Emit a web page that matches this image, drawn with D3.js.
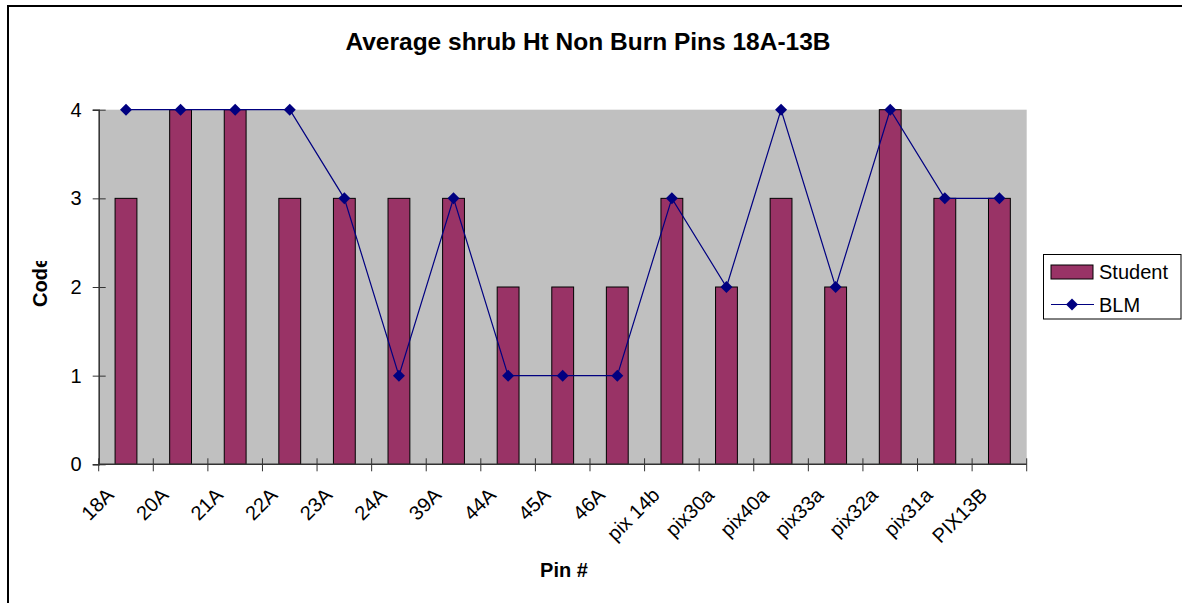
<!DOCTYPE html>
<html>
<head>
<meta charset="utf-8">
<script src="https://cdn.jsdelivr.net/npm/d3@7.9.0/dist/d3.min.js"></script>
<style>
  html, body { margin: 0; padding: 0; background: #fff; overflow: hidden; }
  svg { display: block; font-family: Arial, "Liberation Sans", sans-serif; }
</style>
</head>
<body>
<svg width="1182" height="603"></svg>
<script>
const pins = ['18A', '20A', '21A', '22A', '23A', '24A', '39A', '44A', '45A', '46A',
  'pix 14b', 'pix30a', 'pix40a', 'pix33a', 'pix32a', 'pix31a', 'PIX13B'];
const student = [3, 4, 4, 3, 3, 3, 3, 2, 2, 2, 3, 2, 3, 2, 4, 3, 3];
const blm = [4, 4, 4, 4, 3, 1, 3, 1, 1, 1, 3, 2, 4, 2, 4, 3, 3];
const yTicks = [0, 1, 2, 3, 4];

const svg = d3.select('svg');
const plot = { left: 98.7, right: 1026.7, top: 109.7, bottom: 464.3 };

// chart border (runs off the right/bottom edge like the original)
svg.append('rect')
  .attr('x', 8).attr('y', 6)
  .attr('width', 1300).attr('height', 700)
  .attr('fill', 'none').attr('stroke', '#000').attr('stroke-width', 2);

const x = d3.scaleBand()
  .domain(pins)
  .range([plot.left, plot.right])
  .paddingInner(0.6)
  .paddingOuter(0.3);

const y = d3.scaleLinear().domain([0, 4]).range([plot.bottom, plot.top]);

// plot background
svg.append('rect')
  .attr('x', plot.left).attr('y', plot.top)
  .attr('width', plot.right - plot.left).attr('height', plot.bottom - plot.top)
  .attr('fill', '#c0c0c0');

// bars
svg.append('g').selectAll('rect')
  .data(pins)
  .join('rect')
  .attr('x', d => x(d))
  .attr('y', (d, i) => y(student[i]))
  .attr('width', x.bandwidth())
  .attr('height', (d, i) => y(0) - y(student[i]))
  .attr('fill', '#993366')
  .attr('stroke', '#000')
  .attr('stroke-width', 1);

// y axis
const yAxis = svg.append('g')
  .attr('transform', `translate(${plot.left},0)`)
  .call(d3.axisLeft(y).tickValues(yTicks).tickFormat(d3.format('d')).tickSize(6).tickPadding(11));
yAxis.select('.domain').attr('stroke', '#333').attr('stroke-width', 1.5);
yAxis.selectAll('.tick line').attr('x2', 7).attr('x1', -6).attr('stroke', '#333');
yAxis.selectAll('.tick text').attr('font-size', 20).attr('fill', '#000')
  .attr('font-family', 'Arial, "Liberation Sans", sans-serif');

// x axis: ticks at band boundaries
const step = x.step();
const boundaries = d3.range(pins.length + 1).map(i => plot.left + i * step);
const xAxis = svg.append('g');
xAxis.append('line')
  .attr('x1', plot.left).attr('x2', plot.right)
  .attr('y1', plot.bottom).attr('y2', plot.bottom)
  .attr('stroke', '#333').attr('stroke-width', 1.5);
xAxis.selectAll('line.tick')
  .data(boundaries)
  .join('line')
  .attr('class', 'tick')
  .attr('x1', d => d).attr('x2', d => d)
  .attr('y1', plot.bottom - 6).attr('y2', plot.bottom + 7)
  .attr('stroke', '#333');
xAxis.selectAll('text')
  .data(pins)
  .join('text')
  .attr('transform', d => `translate(${x(d) + x.bandwidth() / 2 - 11},${plot.bottom + 32}) rotate(-45)`)
  .attr('text-anchor', 'end')
  .attr('font-size', 20)
  .text(d => d);

// BLM line
const cx = d => x(d) + x.bandwidth() / 2;
const line = d3.line()
  .x(d => cx(d))
  .y((d, i) => y(blm[i]));
svg.append('path')
  .datum(pins)
  .attr('d', line)
  .attr('fill', 'none')
  .attr('stroke', '#000080')
  .attr('stroke-width', 1.2);

const diamond = d3.symbol().type(d3.symbolSquare).size(72);
svg.append('g').selectAll('path')
  .data(pins)
  .join('path')
  .attr('d', diamond)
  .attr('transform', (d, i) => `translate(${cx(d)},${y(blm[i])}) rotate(45)`)
  .attr('fill', '#000080');

// titles
svg.append('text')
  .attr('x', 588).attr('y', 50)
  .attr('text-anchor', 'middle')
  .attr('font-size', 24.5).attr('font-weight', 'bold')
  .text('Average shrub Ht Non Burn Pins 18A-13B');

svg.append('text')
  .attr('x', 564).attr('y', 577)
  .attr('text-anchor', 'middle')
  .attr('font-size', 20).attr('font-weight', 'bold')
  .text('Pin #');

// y title, top of the "e" is cut off in the original
svg.append('clipPath').attr('id', 'codeClip')
  .append('rect').attr('x', 0).attr('y', 261).attr('width', 98).attr('height', 340);
svg.append('g')
  .attr('clip-path', 'url(#codeClip)')
  .append('text')
  .attr('transform', 'translate(47,282) rotate(-90)')
  .attr('text-anchor', 'middle')
  .attr('font-size', 20).attr('font-weight', 'bold')
  .text('Code');

// legend
const legend = svg.append('g');
legend.append('rect')
  .attr('x', 1043.5).attr('y', 254.5)
  .attr('width', 137.5).attr('height', 64.5)
  .attr('fill', '#fff').attr('stroke', '#000');
legend.append('rect')
  .attr('x', 1051).attr('y', 265)
  .attr('width', 42).attr('height', 14)
  .attr('fill', '#993366').attr('stroke', '#000');
legend.append('text')
  .attr('x', 1099).attr('y', 279)
  .attr('font-size', 20)
  .text('Student');
legend.append('line')
  .attr('x1', 1051).attr('x2', 1094)
  .attr('y1', 304.5).attr('y2', 304.5)
  .attr('stroke', '#000080').attr('stroke-width', 1.2);
legend.append('path')
  .attr('d', diamond)
  .attr('transform', 'translate(1072,304.5) rotate(45)')
  .attr('fill', '#000080');
legend.append('text')
  .attr('x', 1099).attr('y', 311.5)
  .attr('font-size', 20)
  .text('BLM');
</script>
</body>
</html>
